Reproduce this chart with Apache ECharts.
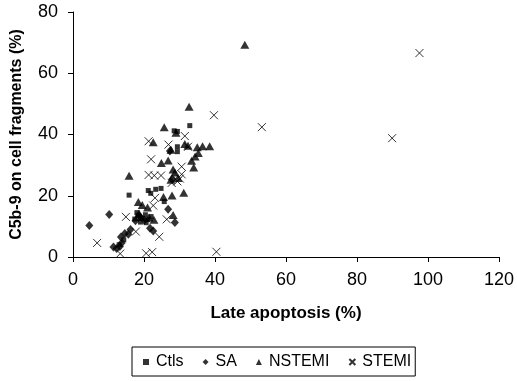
<!DOCTYPE html>
<html>
<head>
<meta charset="utf-8">
<script src="https://cdn.jsdelivr.net/npm/echarts@6/dist/echarts.min.js"></script>
<style>
  html, body { margin: 0; padding: 0; background: #fff; }
  #chart { width: 517px; height: 381px; }
</style>
</head>
<body>
<div id="chart"></div>
<script>
// points: [late apoptosis %, C5b-9 %]
var ctls = [
  [32.9, 42.9], [28.5, 41.2], [29.4, 41.0], [29.4, 36.0], [29.4, 34.4],
  [15.8, 20.2], [21.2, 21.7], [21.9, 20.8], [23.3, 22.1], [24.8, 22.4],
  [25.7, 18.1], [18.3, 13.6], [19.5, 12.6], [20.4, 13.8], [21.0, 12.2],
  [17.4, 12.4], [19.0, 11.4], [22.0, 13.2], [20.6, 11.2], [18.0, 14.5],
  [14.3, 5.6], [13.0, 4.0]
];
var sa = [
  [27.3, 34.6], [4.6, 10.3], [10.2, 13.9], [26.8, 15.6], [28.7, 11.3],
  [21.7, 9.4], [22.6, 8.5], [16.2, 9.0], [15.6, 7.4], [14.6, 7.7],
  [13.5, 6.5], [13.7, 4.6], [13.2, 3.4], [12.3, 2.8], [11.4, 3.3],
  [18.7, 13.4], [20.1, 12.0], [17.6, 11.8], [28.0, 25.5]
];
var nstemi = [
  [48.4, 69.3], [32.7, 49.1], [25.7, 42.4], [29.0, 40.6], [22.6, 37.5],
  [31.5, 36.9], [32.4, 36.3], [35.0, 35.8], [36.5, 36.2], [38.5, 36.2],
  [27.6, 35.0], [35.3, 34.0], [34.4, 32.8], [33.4, 31.4], [24.9, 30.7],
  [26.8, 31.5], [34.0, 29.2], [28.2, 28.6], [15.8, 26.5], [28.7, 27.6],
  [29.6, 25.8], [27.6, 25.2], [31.2, 21.0], [25.5, 19.6], [27.9, 20.1],
  [18.4, 18.0], [19.5, 17.0], [21.0, 16.2], [18.6, 14.2], [19.1, 13.1],
  [21.4, 12.9], [22.8, 12.2], [28.2, 13.7]
];
var stemi = [
  [97.6, 66.6], [89.9, 38.8], [53.2, 42.4], [39.7, 46.3], [31.5, 39.5],
  [21.3, 37.8], [26.9, 36.7], [32.4, 36.0], [22.0, 31.9], [30.6, 29.5],
  [21.3, 26.8], [22.9, 26.6], [24.8, 26.6], [30.6, 27.0], [30.1, 25.6],
  [27.8, 24.2], [29.4, 24.7], [23.1, 19.3], [22.6, 16.8], [14.9, 13.1],
  [26.4, 12.3], [17.7, 8.3], [24.3, 6.6], [6.8, 4.6], [13.3, 1.1],
  [20.6, 1.2], [22.3, 1.6], [40.4, 1.7]
];
var seriesNames = ['Ctls', 'SA', 'NSTEMI', 'STEMI'];

var font = 'Liberation Sans, Arial, sans-serif';
var crossPath = 'path://M0,0L10,10M10,0L0,10';

var chart = echarts.init(document.getElementById('chart'));

function axisCommon() {
  return {
    type: 'value',
    splitLine: { show: false },
    axisLine: { show: true, onZero: false, lineStyle: { color: '#000', width: 1 } },
    axisTick: { show: true, inside: false, length: 5, lineStyle: { color: '#000' } },
    axisLabel: { color: '#000', fontSize: 18, fontFamily: font },
    nameLocation: 'middle',
    nameTextStyle: { color: '#000', fontWeight: 'bold', fontSize: 16, fontFamily: font }
  };
}

var xAxis = axisCommon();
xAxis.min = 0; xAxis.max = 120; xAxis.interval = 20;
xAxis.name = 'Late apoptosis (%)';
xAxis.nameGap = 48;
xAxis.axisLabel.margin = 14;
xAxis.nameTextStyle.fontSize = 17;

var yAxis = axisCommon();
yAxis.min = 0; yAxis.max = 80; yAxis.interval = 20;
yAxis.name = 'C5b-9 on cell fragments (%)';
yAxis.nameGap = 48;
yAxis.axisLabel.margin = 15;

var option = {
  animation: false,
  backgroundColor: '#fff',
  grid: { left: 73, right: 17, top: 12, bottom: 124, containLabel: false },
  xAxis: xAxis,
  yAxis: yAxis,
  legend: {
    left: 132,
    top: 347,
    orient: 'horizontal',
    borderColor: '#000',
    borderWidth: 1,
    padding: [7, 4, 6, 11],
    itemGap: 19,
    itemWidth: 6,
    itemHeight: 6,
    textStyle: { color: '#000', fontSize: 16, fontFamily: font, padding: [0, 0, 0, 2] },
    data: seriesNames
  },
  series: [
    {
      name: 'Ctls', type: 'scatter', data: ctls,
      symbol: 'rect', symbolSize: 5,
      itemStyle: { color: '#000' }
    },
    {
      name: 'SA', type: 'scatter', data: sa,
      symbol: 'diamond', symbolSize: [8, 9],
      itemStyle: { color: '#000' }
    },
    {
      name: 'NSTEMI', type: 'scatter', data: nstemi,
      symbol: 'triangle', symbolSize: [9, 8],
      itemStyle: { color: '#000' }
    },
    {
      name: 'STEMI', type: 'scatter', data: stemi,
      symbol: crossPath, symbolSize: 8,
      itemStyle: { color: 'rgba(0,0,0,0)', borderColor: '#000', borderWidth: 1 }
    }
  ]
};

chart.setOption(option);
</script>
</body>
</html>
